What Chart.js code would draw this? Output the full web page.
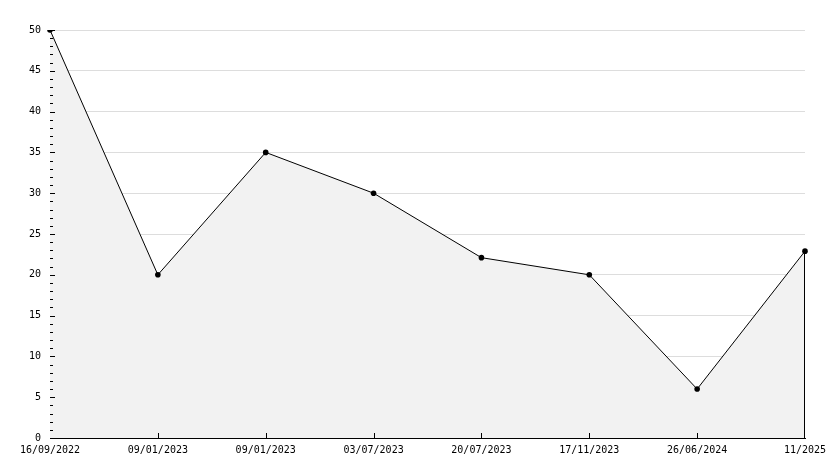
<!DOCTYPE html>
<html>
<head>
<meta charset="utf-8">
<script src="https://cdn.jsdelivr.net/npm/chart.js@4/dist/chart.umd.min.js"></script>
<style>
html,body{margin:0;padding:0;background:#fff;}
#wrap{width:834px;height:468px;position:relative;}
</style>
</head>
<body>
<div id="wrap"><canvas id="c" width="834" height="468"></canvas></div>
<script>
const categories = ["16/09/2022","09/01/2023","09/01/2023","03/07/2023","20/07/2023","17/11/2023","26/06/2024","11/2025"];
const values = [50, 20, 35, 30, 22.1, 20, 6, 22.9];
const yTicks = [0,5,10,15,20,25,30,35,40,45,50];

const tickPlugin = {
  id: 'ticks',
  afterDatasetsDraw(chart) {
    const ctx = chart.ctx;
    const y = chart.scales.y, x = chart.scales.x;
    const left = chart.chartArea.left, bottom = chart.chartArea.bottom;
    ctx.save();
    ctx.strokeStyle = '#000';
    ctx.lineWidth = 1;
    ctx.beginPath();
    for (let v = y.min; v <= y.max; v++) {
      const py = Math.round(y.getPixelForValue(v)) + 0.5;
      const len = (v % 5 === 0) ? 5 : 3;
      ctx.moveTo(left, py);
      ctx.lineTo(left + len, py);
    }
    for (let i = 1; i < categories.length - 1; i++) {
      const px = Math.round(x.getPixelForValue(i)) + 0.5;
      ctx.moveTo(px, bottom);
      ctx.lineTo(px, bottom - 5);
    }
    const last = values.length - 1;
    const lx = Math.round(x.getPixelForValue(last)) - 0.5;
    ctx.moveTo(lx, y.getPixelForValue(values[last]));
    ctx.lineTo(lx, bottom);
    ctx.stroke();
    ctx.restore();
  }
};

new Chart(document.getElementById('c'), {
  type: 'line',
  data: {
    labels: categories,
    datasets: [{
      data: values,
      borderColor: '#000',
      borderWidth: 1,
      backgroundColor: '#f2f2f2',
      fill: 'origin',
      tension: 0,
      pointRadius: 2.8,
      pointBackgroundColor: '#000',
      pointBorderColor: '#000',
      pointBorderWidth: 0,
      pointStyle: 'circle'
    }]
  },
  options: {
    responsive: false,
    animation: false,
    devicePixelRatio: 1,
    layout: { padding: { top: 30, right: 29, left: 0, bottom: 0 } },
    plugins: { legend: { display: false }, tooltip: { enabled: false } },
    scales: {
      x: {
        type: 'category',
        offset: false,
        grid: { display: false, drawTicks: false },
        border: { display: true, color: '#000', width: 1 },
        ticks: {
          autoSkip: false, maxRotation: 0, minRotation: 0, padding: 6,
          color: '#000', font: { family: 'DejaVu Sans Mono', size: 10 }
        },
        afterFit(s) { s.height = 30; }
      },
      y: {
        min: 0, max: 50,
        grid: { color: '#dddddd', drawTicks: false, lineWidth: 1 },
        border: { display: true, color: '#000', width: 1 },
        afterBuildTicks(s) { s.ticks = yTicks.map(v => ({ value: v })); },
        ticks: {
          padding: 9, color: '#000',
          font: { family: 'DejaVu Sans Mono', size: 10 }
        },
        afterFit(s) { s.width = 50; }
      }
    }
  },
  plugins: [tickPlugin]
});
</script>
</body>
</html>
